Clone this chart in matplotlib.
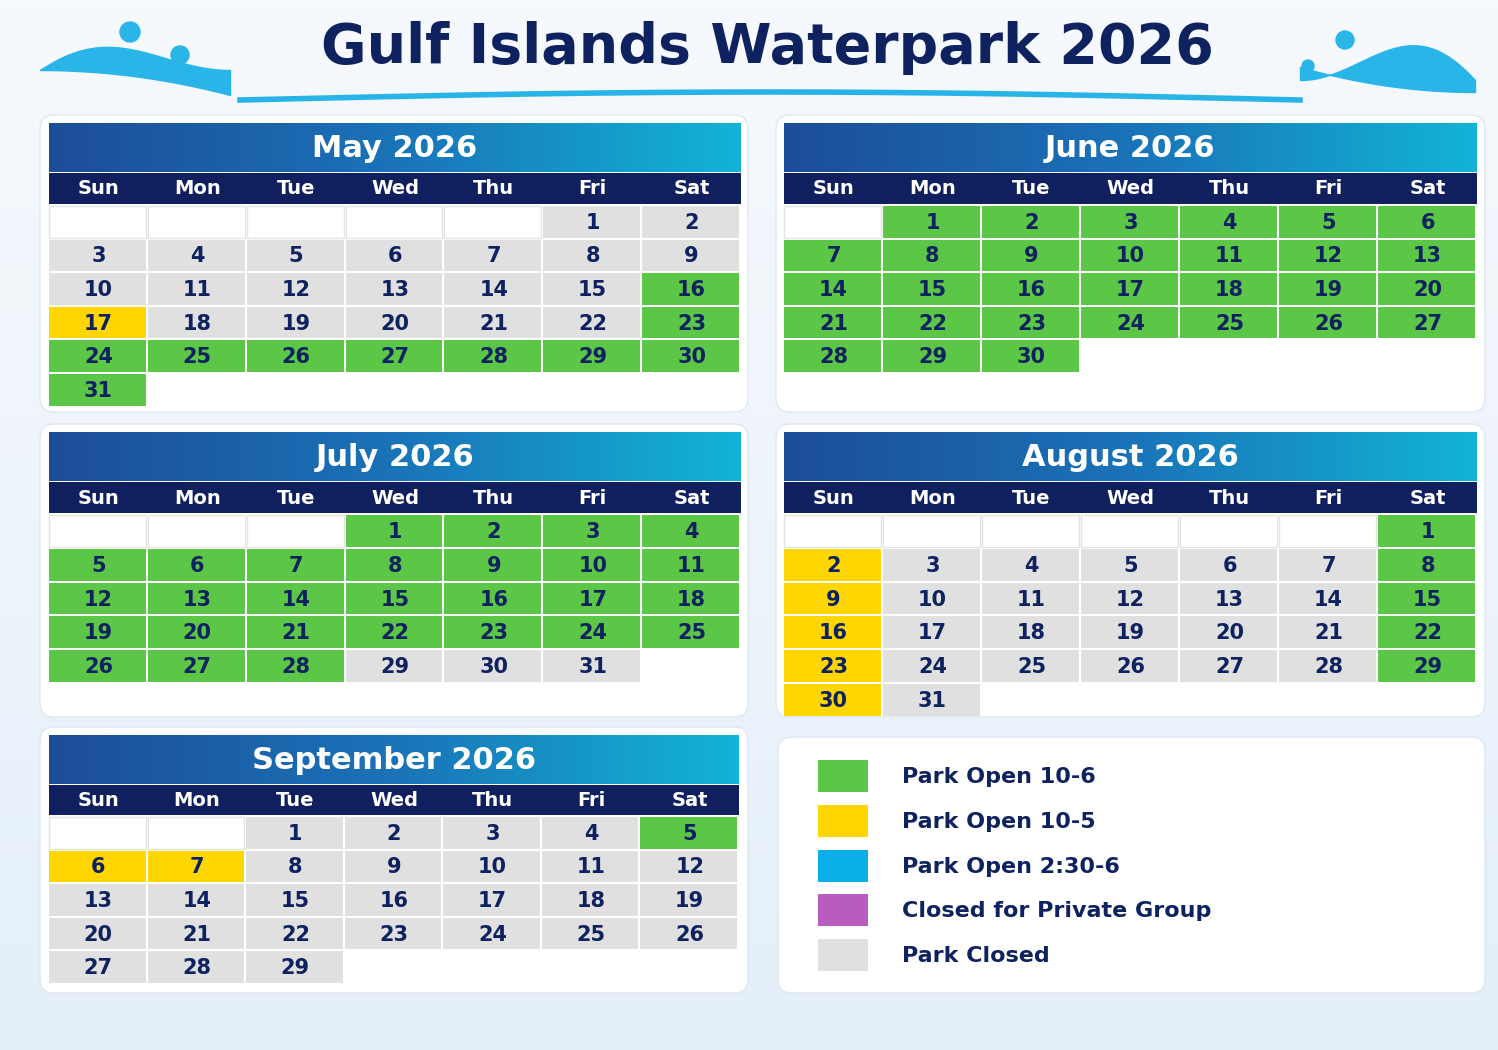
import matplotlib
matplotlib.use("Agg")
import matplotlib.pyplot as plt
import numpy as np
from matplotlib.patches import FancyBboxPatch, Rectangle

# ---- data ----
weekdays = ["Sun", "Mon", "Tue", "Wed", "Thu", "Fri", "Sat"]
month_names = ["May 2026", "June 2026", "July 2026", "August 2026", "September 2026"]
first_weekday = [5, 1, 3, 6, 2]   # 0=Sun
# codes: G=open 10-6, Y=10-5, B=2:30-6, P=private, C=closed
may_status  = list("CCCCCCCCCCCCCCC" + "GY" + "CCCCC" + "G" + "GGGGGGGG")
june_status = list("G" * 30)
july_status = list("G" * 28 + "CCC")
aug_status  = list("GYCCCCCGYCCCCCGYCCCCCGYCCCCCGYC")
sep_status  = list("CCCCGYY" + "C" * 22)
statuses = [may_status, june_status, july_status, aug_status, sep_status]
legend_labels = ["Park Open 10-6", "Park Open 10-5", "Park Open 2:30-6",
                 "Closed for Private Group", "Park Closed"]
legend_codes = ["G", "Y", "B", "P", "C"]

colors = {"G": "#5cc646", "Y": "#ffd600", "B": "#0aaee8", "P": "#b85cc0", "C": "#e0e0e0"}
NAVY = "#0f2260"

fig = plt.figure(figsize=(14.98, 10.5), dpi=100)
ax = fig.add_axes([0, 0, 1, 1])
ax.set_xlim(0, 1498); ax.set_ylim(1050, 0); ax.axis("off")

bg = np.linspace(0, 1, 256).reshape(-1, 1)
ax.imshow(bg, extent=(0, 1498, 1050, 0), cmap=matplotlib.colors.LinearSegmentedColormap.from_list(
    "bg", ["#f6f9fd", "#eef4fb", "#e3eff9"]), aspect="auto", zorder=0)

ax.text(767, 48, "Gulf Islands Waterpark 2026", ha="center", va="center",
        fontsize=40, fontweight="bold", color=NAVY, family="DejaVu Sans", zorder=5)
xs = np.linspace(240, 1300, 300)
ax.plot(xs, 100 - 8 * np.sin((xs - 240) / 1060 * np.pi), color="#28b4e6", lw=4, zorder=2)
t = np.linspace(0, 1, 100)
ax.fill_between(40 + 190 * t, 70 - 40 * np.sin(t * np.pi) * (1 - t), 70 + 25 * t ** 2, color="#2ab5e8", zorder=2)
ax.fill_between(1300 + 175 * t, 92 - 25 * (1 - t) ** 2, 80 - 60 * np.sin(t * np.pi) * t, color="#2ab5e8", zorder=2)
for (cx, cy, r) in [(130, 32, 10), (180, 55, 9), (1345, 40, 9), (1308, 66, 6)]:
    ax.add_patch(plt.Circle((cx, cy), r, color="#2ab5e8", zorder=2))

grad = np.linspace(0, 1, 256).reshape(1, -1)
hdr_cmap = matplotlib.colors.LinearSegmentedColormap.from_list("h", ["#1d4d99", "#1a73b8", "#12b4d6"])

def card(x0, y0, x1, y1):
    ax.add_patch(FancyBboxPatch((x0, y0), x1 - x0, y1 - y0, boxstyle="round,pad=0,rounding_size=14",
                                fc="white", ec="#dfe7f0", lw=1, zorder=1))

def month(idx, x0, x1, ytop, ytitle_bot, ydays_bot, row_h, card_box):
    card(*card_box)
    ax.imshow(grad, extent=(x0, x1, ytitle_bot, ytop), cmap=hdr_cmap, aspect="auto", zorder=2)
    ax.text((x0 + x1) / 2, (ytop + ytitle_bot) / 2 + 1, month_names[idx], ha="center", va="center",
            fontsize=22, fontweight="bold", color="white", zorder=5)
    ax.add_patch(Rectangle((x0, ytitle_bot + 1), x1 - x0, ydays_bot - ytitle_bot - 1, fc="#10205e", ec="none", zorder=2))
    cw = (x1 - x0) / 7
    for i, d in enumerate(weekdays):
        ax.text(x0 + cw * (i + 0.5), (ytitle_bot + ydays_bot) / 2 + 1, d, ha="center", va="center",
                fontsize=14, fontweight="bold", color="white", zorder=5)
    st = statuses[idx]
    fw = first_weekday[idx]
    nrows = (fw + len(st) + 6) // 7
    for r in range(nrows):
        for c in range(7):
            k = r * 7 + c - fw
            yy = ydays_bot + 2 + r * row_h
            xx = x0 + c * cw
            if 0 <= k < len(st):
                ax.add_patch(Rectangle((xx, yy), cw - 2, row_h - 2, fc=colors[st[k]], ec="none", zorder=2))
                ax.text(xx + cw / 2, yy + row_h / 2, str(k + 1), ha="center", va="center",
                        fontsize=15, fontweight="bold", color=NAVY, zorder=5)
            elif r == 0:
                ax.add_patch(Rectangle((xx, yy), cw - 2, row_h - 2, fc="white", ec="#e4e4e4", lw=1, zorder=2))

month(0, 49, 741, 123, 172, 204, 33.6, (40, 115, 748, 412))
month(1, 784, 1477, 123, 172, 204, 33.6, (776, 115, 1485, 412))
month(2, 49, 741, 432, 481, 513, 33.8, (40, 424, 748, 717))
month(3, 784, 1477, 432, 481, 513, 33.8, (776, 424, 1485, 717))
month(4, 49, 739, 735, 784, 815, 33.6, (40, 727, 748, 993))

card(778, 737, 1485, 993)
for i, (lab, code) in enumerate(zip(legend_labels, legend_codes)):
    cy = 776 + i * 44.8
    ax.add_patch(Rectangle((818, cy - 16), 50, 32, fc=colors[code], ec="none", zorder=3))
    ax.text(902, cy + 1, lab, ha="left", va="center", fontsize=16, fontweight="bold", color=NAVY, zorder=5)

fig.savefig("out.png", dpi=100)
